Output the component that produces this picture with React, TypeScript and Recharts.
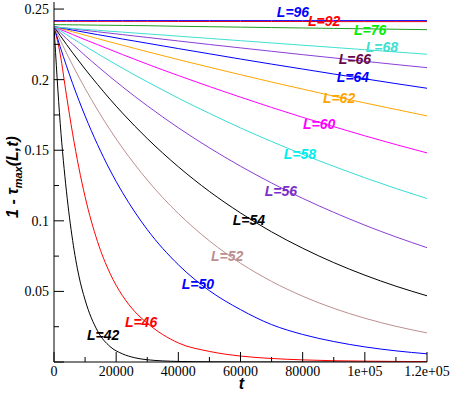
import React from 'react';
import { LineChart, Line, XAxis, YAxis, ReferenceDot } from 'recharts';

const T = [0, 2000, 4000, 6000, 8000, 10000, 14000, 18000, 22000, 26000, 30000, 40000, 50000, 60000, 70000, 80000, 90000, 100000, 110000, 120000];

const L42 = [0.2375, 0.169, 0.121, 0.086, 0.061, 0.044, 0.022, 0.011, 0.0058, 0.003, 0.0016, 0.0004, 0.0001, 0, 0, 0, 0, 0, 0, 0];
const L46 = [0.2375, 0.218, 0.189, 0.1616, 0.1376, 0.1171, 0.0853, 0.0629, 0.0471, 0.0357, 0.0275, 0.0135, 0.0075, 0.0042, 0.0025, 0.0015, 0.0009, 0.0006, 0.0004, 0.0003];
const L50 = [0.2375, 0.2232, 0.2098, 0.1972, 0.1854, 0.1743, 0.154, 0.136, 0.1202, 0.1062, 0.0938, 0.0689, 0.0505, 0.0371, 0.0265, 0.0195, 0.0145, 0.0107, 0.0079, 0.0058];
const L52 = [0.2375, 0.228, 0.2189, 0.2102, 0.2018, 0.1938, 0.1786, 0.1646, 0.1517, 0.1399, 0.1289, 0.1052, 0.0858, 0.07, 0.0571, 0.0466, 0.038, 0.031, 0.0253, 0.0206];
const L54 = [0.2375, 0.2312, 0.225, 0.219, 0.2132, 0.2075, 0.1966, 0.1862, 0.1764, 0.1671, 0.1583, 0.1383, 0.1208, 0.1056, 0.0922, 0.0806, 0.0704, 0.0615, 0.0537, 0.0469];
const L56 = [0.2375, 0.2333, 0.2291, 0.2251, 0.2211, 0.2171, 0.2095, 0.2021, 0.195, 0.1881, 0.1815, 0.1659, 0.1517, 0.1387, 0.1268, 0.1159, 0.106, 0.0969, 0.0886, 0.081];
const L58 = [0.2375, 0.2347, 0.2319, 0.2291, 0.2264, 0.2237, 0.2184, 0.2132, 0.2082, 0.2032, 0.1985, 0.1869, 0.1761, 0.1658, 0.1562, 0.1471, 0.1386, 0.1305, 0.1229, 0.1158];
const L60 = [0.2375, 0.2356, 0.2338, 0.232, 0.2301, 0.2283, 0.2248, 0.2213, 0.2178, 0.2144, 0.211, 0.2029, 0.1951, 0.1876, 0.1803, 0.1733, 0.1667, 0.1602, 0.154, 0.1481];
const L62 = [0.2375, 0.2363, 0.2351, 0.2339, 0.2327, 0.2315, 0.2291, 0.2267, 0.2244, 0.2221, 0.2198, 0.2142, 0.2088, 0.2035, 0.1983, 0.1933, 0.1883, 0.1835, 0.1789, 0.1743];
const L64 = [0.2375, 0.2367, 0.2359, 0.2351, 0.2343, 0.2335, 0.2319, 0.2304, 0.2288, 0.2273, 0.2258, 0.222, 0.2183, 0.2146, 0.211, 0.2075, 0.204, 0.2006, 0.1972, 0.1939];
const L66 = [0.2375, 0.237, 0.2365, 0.236, 0.2354, 0.2349, 0.2339, 0.2329, 0.2319, 0.2309, 0.2299, 0.2274, 0.2249, 0.2225, 0.2201, 0.2177, 0.2154, 0.213, 0.2107, 0.2085];
const L68 = [0.2372, 0.2369, 0.2366, 0.2362, 0.2359, 0.2356, 0.235, 0.2343, 0.2337, 0.233, 0.2324, 0.2308, 0.2292, 0.2276, 0.226, 0.2244, 0.2228, 0.2212, 0.2196, 0.218];
const L76 = [0.239, 0.2389, 0.2389, 0.2388, 0.2388, 0.2387, 0.2386, 0.2385, 0.2384, 0.2383, 0.2382, 0.2378, 0.2375, 0.2372, 0.2369, 0.2366, 0.2363, 0.236, 0.2357, 0.2354];
const L92 = [0.2413, 0.2413, 0.2413, 0.2413, 0.2413, 0.2413, 0.2413, 0.2413, 0.2413, 0.2413, 0.2413, 0.2412, 0.2412, 0.2412, 0.2412, 0.2412, 0.2411, 0.2411, 0.2411, 0.2411];
const L96 = [0.2418, 0.2418, 0.2418, 0.2418, 0.2418, 0.2418, 0.2418, 0.2418, 0.2418, 0.2418, 0.2418, 0.2418, 0.2418, 0.2418, 0.2418, 0.2418, 0.2418, 0.2418, 0.2418, 0.2418];

const X_TICKS = [0, 10000, 20000, 30000, 40000, 50000, 60000, 70000, 80000, 90000, 100000, 110000, 120000];
const X_LABELS = ['0', '', '20000', '', '40000', '', '60000', '', '80000', '', '1e+05', '', '1.2e+05'];
const Y_TICKS = [0, 0.025, 0.05, 0.075, 0.1, 0.125, 0.15, 0.175, 0.2, 0.225, 0.25];
const Y_LABELS = ['', '', '0.05', '', '0.1', '', '0.15', '', '0.2', '', '0.25'];
const Y_MAJOR = [true, false, true, false, true, false, true, false, true, false, true];

const SERIES = [
  { key: 'L42', values: L42, color: '#000000' },
  { key: 'L46', values: L46, color: '#ff0000' },
  { key: 'L50', values: L50, color: '#0000ff' },
  { key: 'L52', values: L52, color: '#bc8f8f' },
  { key: 'L54', values: L54, color: '#000000' },
  { key: 'L56', values: L56, color: '#8a3ed6' },
  { key: 'L58', values: L58, color: '#38dcd4' },
  { key: 'L60', values: L60, color: '#ff00ff' },
  { key: 'L62', values: L62, color: '#ffa500' },
  { key: 'L64', values: L64, color: '#0000ff' },
  { key: 'L66', values: L66, color: '#8a3ed6' },
  { key: 'L68', values: L68, color: '#40e0d0' },
  { key: 'L76', values: L76, color: '#1f9c1f' },
  { key: 'L92', values: L92, color: '#ff0000' },
  { key: 'L96', values: L96, color: '#0000ff' },
];

// curve annotations: text, colour, anchor (t, value)
const LABEL_TEXT = ['L=96', 'L=92', 'L=76', 'L=68', 'L=66', 'L=64', 'L=62', 'L=60', 'L=58', 'L=56', 'L=54', 'L=52', 'L=50', 'L=46', 'L=42'];
const LABEL_COLOR = ['#0000ff', '#ff0000', '#00ee00', '#40e0d0', '#670748', '#0000ff', '#ffa500', '#ff00ff', '#00eeee', '#7a30c8', '#000000', '#bc8f8f', '#0000ff', '#ff0000', '#000000'];
const LABEL_T = [76900, 86900, 101700, 105500, 96800, 96200, 91700, 85300, 79100, 73000, 62700, 55700, 46300, 28000, 15800];
const LABEL_V = [0.2479, 0.2415, 0.2351, 0.2231, 0.2146, 0.2018, 0.187, 0.1686, 0.1473, 0.1211, 0.1006, 0.0751, 0.0552, 0.0283, 0.0191];

const data = T.map((t, i) => {
  const row: Record<string, number> = { t };
  SERIES.forEach((s) => { row[s.key] = s.values[i]; });
  return row;
});

const SERIF = "'Liberation Serif', 'Times New Roman', Times, serif";
const SANS = "'Liberation Sans', Arial, Helvetica, sans-serif";

const BottomTick = (props: any) => {
  const { x, y, payload } = props;
  const idx = X_TICKS.indexOf(payload.value);
  const label = X_LABELS[idx] ?? '';
  const major = label !== '';
  return (
    <g>
      <line x1={x} x2={x} y1={y} y2={y - (major ? 10 : 5)} stroke="#000" strokeWidth={1} />
      {major && (
        <text x={x} y={y + 14} textAnchor="middle" style={{ fontFamily: SERIF, fontSize: 14 }} fill="#000">{label}</text>
      )}
    </g>
  );
};

const TopTick = (props: any) => {
  const { x, y, payload } = props;
  const idx = X_TICKS.indexOf(payload.value);
  const major = (X_LABELS[idx] ?? '') !== '';
  return <line x1={x} x2={x} y1={y} y2={y + (major ? 10 : 5)} stroke="#000" strokeWidth={1} />;
};

const LeftTick = (props: any) => {
  const { x, y, payload } = props;
  const idx = Y_TICKS.indexOf(payload.value);
  const label = Y_LABELS[idx] ?? '';
  const major = Y_MAJOR[idx];
  return (
    <g>
      <line x1={x} x2={x + (major ? 10 : 5)} y1={y} y2={y} stroke="#000" strokeWidth={1} />
      {label !== '' && (
        <text x={x - 5} y={y + 5} textAnchor="end" style={{ fontFamily: SERIF, fontSize: 14 }} fill="#000">{label}</text>
      )}
    </g>
  );
};

const RightTick = (props: any) => {
  const { x, y, payload } = props;
  const idx = Y_TICKS.indexOf(payload.value);
  const major = Y_MAJOR[idx];
  return <line x1={x} x2={x - (major ? 10 : 5)} y1={y} y2={y} stroke="#000" strokeWidth={1} />;
};

const XTitle = (props: any) => {
  const vb = props.viewBox || { x: 54, y: 362, width: 373, height: 32 };
  return (
    <text x={vb.x + vb.width / 2 + 1} y={vb.y + 27} textAnchor="middle" style={{ fontFamily: SANS, fontWeight: 'bold', fontStyle: 'italic', fontSize: 16 }} fill="#000">t</text>
  );
};

const YTitle = (props: any) => {
  const vb = props.viewBox || { x: 0, y: 2, width: 54, height: 360 };
  const cx = vb.x + 18;
  const cy = vb.y + vb.height / 2 - 5;
  return (
    <text x={cx} y={cy} transform={`rotate(-90, ${cx}, ${cy})`} textAnchor="middle" style={{ fontFamily: SANS, fontWeight: 'bold', fontStyle: 'italic', fontSize: 16 }} fill="#000">
      1 - τ<tspan style={{ fontSize: 11 }} dy={4}>max</tspan><tspan dy={-4}>(L,t)</tspan>
    </text>
  );
};

const makeLabelShape = (text: string, color: string) => (props: any) => (
  <text x={props.cx} y={props.cy} dy="0.35em" textAnchor="middle" style={{ fontFamily: SANS, fontWeight: 'bold', fontStyle: 'italic', fontSize: 14 }} fill={color}>{text}</text>
);

export default function App() {
  return (
    <div style={{ position: 'absolute', left: 0, top: 0, background: '#fff' }}>
      <LineChart width={450} height={394} data={data} margin={{ top: 2, right: 23, bottom: 0, left: 0 }}>
        <XAxis
          dataKey="t"
          type="number"
          domain={[0, 120000]}
          ticks={X_TICKS}
          interval={0}
          height={32}
          tickSize={0}
          tickMargin={0}
          tickLine={false}
          tick={<BottomTick />}
          axisLine={{ stroke: '#000', strokeWidth: 1 }}
          allowDataOverflow
          label={<XTitle />}
        />
        <XAxis
          xAxisId="top"
          orientation="top"
          type="number"
          domain={[0, 120000]}
          ticks={X_TICKS}
          interval={0}
          height={0}
          tickSize={0}
          tickMargin={0}
          tickLine={false}
          tick={<TopTick />}
          axisLine={{ stroke: '#808080', strokeWidth: 2 }}
          allowDataOverflow
        />
        <YAxis
          type="number"
          domain={[0, 0.255]}
          ticks={Y_TICKS}
          interval={0}
          width={54}
          tickSize={0}
          tickMargin={0}
          tickLine={false}
          tick={<LeftTick />}
          axisLine={{ stroke: '#000', strokeWidth: 1 }}
          allowDataOverflow
          label={<YTitle />}
        />
        <YAxis
          yAxisId="right"
          orientation="right"
          type="number"
          domain={[0, 0.255]}
          ticks={Y_TICKS}
          interval={0}
          width={0}
          tickSize={0}
          tickMargin={0}
          tickLine={false}
          tick={<RightTick />}
          axisLine={{ stroke: '#808080', strokeWidth: 2 }}
          allowDataOverflow
        />
        {SERIES.map((s) => (
          <Line
            key={s.key}
            type="monotone"
            dataKey={s.key}
            stroke={s.color}
            strokeWidth={1}
            dot={false}
            activeDot={false}
            isAnimationActive={false}
          />
        ))}
        {LABEL_TEXT.map((txt, i) => (
          <ReferenceDot
            key={txt}
            x={LABEL_T[i]}
            y={LABEL_V[i]}
            r={1}
            ifOverflow="visible"
            shape={makeLabelShape(txt, LABEL_COLOR[i])}
          />
        ))}
      </LineChart>
    </div>
  );
}
